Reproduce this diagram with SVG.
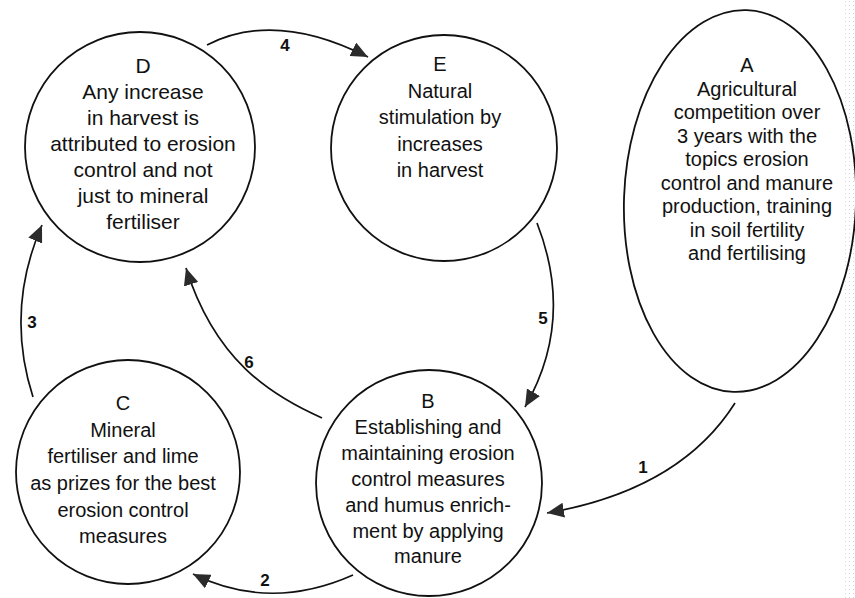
<svg xmlns="http://www.w3.org/2000/svg" width="855" height="598" viewBox="0 0 855 598">
<style>
.node{fill:none;stroke:#111;stroke-width:1.8}
.t{font-family:"Liberation Sans",Arial,Helvetica,sans-serif;font-size:20px;fill:#111;text-anchor:middle}
.lbl{font-family:"Liberation Sans",Arial,Helvetica,sans-serif;font-size:17px;font-weight:bold;fill:#111;text-anchor:middle}
.conn{fill:none;stroke:#111;stroke-width:1.7;marker-end:url(#ah)}
</style>
<defs>
<marker id="ah" viewBox="0 0 17 15" refX="17" refY="7.5" markerWidth="17" markerHeight="15" markerUnits="userSpaceOnUse" orient="auto">
<path d="M0,0 L17,7.5 L0,15 Z" fill="#2b2b2b"/>
</marker>
<pattern id="stip" width="4" height="4" patternUnits="userSpaceOnUse">
<rect x="1" y="1" width="1" height="1" fill="#bdbdbd"/>
</pattern>
</defs>
<rect width="855" height="598" fill="#fff"/>
<rect x="844" y="0" width="11" height="598" fill="url(#stip)" opacity="0.6"/>
<g id="connectors">
<path class="conn" d="M735,403 Q680,490 547,513"/>
<text class="lbl" x="643" y="473">1</text>
<path class="conn" d="M353,575 Q270,612 193,574"/>
<text class="lbl" x="265" y="586">2</text>
<path class="conn" d="M33,397 Q5,310 42,225"/>
<text class="lbl" x="32" y="328">3</text>
<path class="conn" d="M207,45 Q275,10 368,57"/>
<text class="lbl" x="285" y="51">4</text>
<path class="conn" d="M537,223 Q575,320 525,407"/>
<text class="lbl" x="543" y="324">5</text>
<path class="conn" d="M322,418 C270,395 215,360 186,268"/>
<text class="lbl" x="249" y="368">6</text>
</g>
<g id="A">
<ellipse class="node" cx="740" cy="201" rx="116" ry="191" transform="rotate(2 740 201)"/>
<text class="t" x="747" y="72">A</text>
<text class="t" x="747" y="95.5">Agricultural</text>
<text class="t" x="747" y="119">competition over</text>
<text class="t" x="747" y="142.5">3 years with the</text>
<text class="t" x="747" y="166">topics erosion</text>
<text class="t" x="747" y="189.5">control and manure</text>
<text class="t" x="747" y="213">production, training</text>
<text class="t" x="747" y="236.5">in soil fertility</text>
<text class="t" x="747" y="260">and fertilising</text>
</g>
<g id="D">
<circle class="node" cx="140" cy="147" r="115"/>
<text class="t" x="143" y="73" style="font-size:21px">D</text>
<text class="t" x="143" y="99" style="font-size:21px">Any increase</text>
<text class="t" x="143" y="125" style="font-size:21px">in harvest is</text>
<text class="t" x="143" y="151" style="font-size:21px">attributed to erosion</text>
<text class="t" x="143" y="177" style="font-size:21px">control and not</text>
<text class="t" x="143" y="203" style="font-size:21px">just to mineral</text>
<text class="t" x="143" y="229" style="font-size:21px">fertiliser</text>
</g>
<g id="E">
<circle class="node" cx="444" cy="148" r="113"/>
<text class="t" x="440" y="71">E</text>
<text class="t" x="440" y="97.5">Natural</text>
<text class="t" x="440" y="124">stimulation by</text>
<text class="t" x="440" y="150.5">increases</text>
<text class="t" x="440" y="177">in harvest</text>
</g>
<g id="C">
<circle class="node" cx="128" cy="472" r="112"/>
<text class="t" x="123" y="410">C</text>
<text class="t" x="123" y="437">Mineral</text>
<text class="t" x="123" y="463">fertiliser and lime</text>
<text class="t" x="123" y="490">as prizes for the best</text>
<text class="t" x="123" y="517">erosion control</text>
<text class="t" x="123" y="543">measures</text>
</g>
<g id="B">
<circle class="node" cx="429" cy="483" r="113"/>
<text class="t" x="428" y="408">B</text>
<text class="t" x="428" y="434">Establishing and</text>
<text class="t" x="428" y="460">maintaining erosion</text>
<text class="t" x="428" y="486">control measures</text>
<text class="t" x="428" y="512">and humus enrich-</text>
<text class="t" x="428" y="538">ment by applying</text>
<text class="t" x="428" y="563">manure</text>
</g>
</svg>
